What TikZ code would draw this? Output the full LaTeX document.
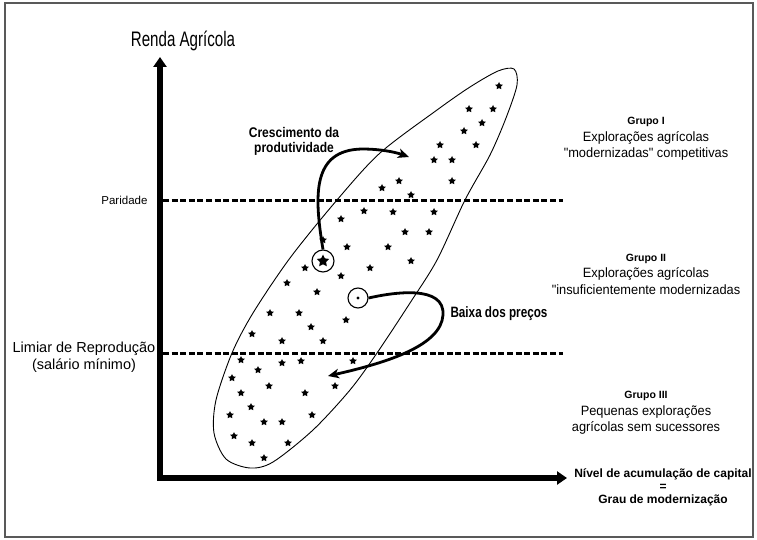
\documentclass[tikz,border=0pt]{standalone}
\usepackage{fontspec}
\setmainfont{Liberation Sans}
\usepackage{graphicx}
\usetikzlibrary{arrows.meta,shapes.geometric,positioning}
\newcommand{\narrowtext}[2][0.8]{\scalebox{#1}[1]{#2}}
\tikzset{
  farm/.style={star,star points=5,star point ratio=2,fill=black,inner sep=0pt,minimum size=8pt},
  levelline/.style={line width=3pt,dash pattern=on 6pt off 2.6pt},
  axisline/.style={line width=5.5pt,line join=miter,{Triangle[length=10pt,width=13pt]}-{Triangle[length=10pt,width=13pt]}},
  trendarrow/.style={line width=2.8pt,-{Stealth[length=11pt,width=9.5pt,inset=3pt]}},
  grouptext/.style={align=center,font=\fontsize{13.5}{16.5}\selectfont},
  grouptitle/.style={font=\fontsize{10.5}{12}\selectfont\bfseries}
}

\begin{document}
\begin{tikzpicture}[x=1pt,y=-1pt,>=Stealth]
\useasboundingbox (0,0) rectangle (757,540);
\draw[black!65,line width=1.6pt] (5,3) rectangle (753,537);
\coordinate (O) at (160,478);
\coordinate (Ytip) at (160,57);
\coordinate (Xtip) at (567,478);
\draw[axisline] (Ytip)--(O)--(Xtip);
\node[font=\fontsize{21}{24}\selectfont] (ylab) at (183,41) {\narrowtext[0.72]{Renda Agrícola}};
\node[align=center,font=\fontsize{12}{13}\selectfont\bfseries] (xlab) at (663,487)
 {Nível de acumulação de capital\\=\\Grau de modernização};
\coordinate (par0) at (163,200);
\coordinate (par1) at (563,200);
\coordinate (lim0) at (163,353);
\coordinate (lim1) at (563,353);
\draw[levelline] (par0)--(par1);
\draw[levelline] (lim0)--(lim1);
\node[anchor=east,font=\fontsize{11.5}{13}\selectfont] (paridade) at (151,200) {Paridade};
\node[align=center,font=\fontsize{14.5}{17}\selectfont] (limiar) at (84,357)
 {Limiar de Reprodução\\(salário mínimo)};
\draw[line width=0.9pt] plot[smooth cycle] coordinates {
 (470,87) (498,71) (514,69) (517,85) (506,118) (490,155) (465,200) (437,260)
 (410,303) (377,353) (350,390) (313,430) (273,462) (250,468) (226,459) (214,433)
 (216,400) (232,353) (253,313) (290,258) (337,200) (380,153) (437,110)};
\foreach \x/\y [count=\i] in {499/86,469/109,493/109,482/123,464/131,440/145,476/145,
 434/160,452/160,399/181,452/181,382/188,411/195,393/212,434/212,364/211,341/219,
 405/232,429/232,388/247,347/247,323/240,411/261,305/268,370/268,341/276,287/283,
 317/292,270/313,299/313,346/320,311/327,252/334,282/341,323/341,241/360,282/363,
 301/361,353/361,258/370,232/378,269/386,335/386,241/393,305/393,251/407,230/415,
 312/415,264/422,282/422,234/436,252/443,288/443,264/458}
 \node[farm] (f\i) at (\x,\y) {};
\node[circle,draw,line width=1.1pt,minimum size=22pt,inner sep=0pt] (leader) at (323,261) {};
\node[farm,minimum size=13pt] (leaderstar) at (leader) {};
\node[circle,draw,line width=1.1pt,minimum size=20pt,inner sep=0pt] (laggard) at (358,298) {};
\node[circle,fill,inner sep=0pt,minimum size=3.4pt] (laggarddot) at (laggard) {};
\coordinate (growend) at (409,157);
\coordinate (dropend) at (328,376);
\draw[trendarrow] (leader.north) .. controls (314,195) and (312,150) .. (362,149)
 .. controls (380,149) and (395,152) .. (growend);
\draw[trendarrow] (laggard.east) .. controls (395,292) and (445,285) .. (443,315)
 .. controls (441,345) and (390,362) .. (dropend);
\node[align=center,font=\fontsize{14}{15}\selectfont\bfseries] (growlab) at (294,141)
 {\narrowtext[0.86]{Crescimento da}\\\narrowtext[0.86]{produtividade}};
\node[anchor=west,font=\fontsize{15}{17}\selectfont\bfseries] (droplab) at (447,314)
 {\narrowtext[0.78]{Baixa dos preços}};
\node[grouptext] (grupo1) at (646,139) {{\fontsize{10.5}{12}\selectfont\bfseries Grupo I}\\
 \narrowtext[0.95]{Explorações agrícolas}\\\narrowtext[0.95]{\textquotedbl modernizadas\textquotedbl{} competitivas}};
\node[grouptext] (grupo2) at (646,274) {{\fontsize{10.5}{12}\selectfont\bfseries Grupo II}\\
 \narrowtext[0.95]{Explorações agrícolas}\\\narrowtext[0.95]{\textquotedbl insuficientemente modernizadas}};
\node[grouptext] (grupo3) at (646,413) {{\fontsize{10.5}{12}\selectfont\bfseries Grupo III}\\
 \narrowtext[0.95]{Pequenas explorações}\\\narrowtext[0.95]{agrícolas sem sucessores}};
\end{tikzpicture}
\end{document}
